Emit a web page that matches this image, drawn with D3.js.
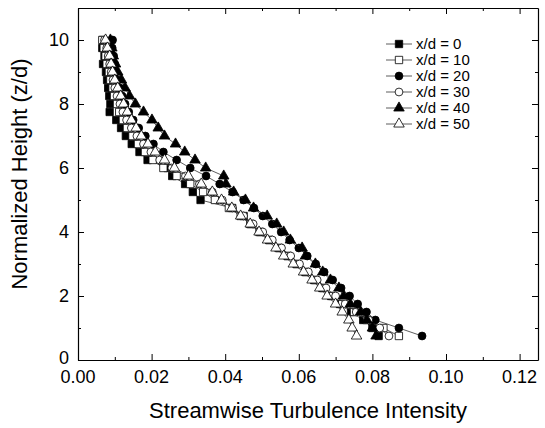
<!DOCTYPE html>
<html>
<head>
<meta charset="utf-8">
<script src="https://cdn.jsdelivr.net/npm/d3@7"></script>
<style>
  body { margin: 0; background: #fff; }
  text { font-family: "Liberation Sans", Arial, sans-serif; fill: #000; }
</style>
</head>
<body>
<svg id="chart" width="545" height="428"></svg>
<script>
// normalized height, top to bottom
var heights = [10, 9.75, 9.5, 9.25, 9, 8.75, 8.5, 8.25, 8, 7.75, 7.5, 7.25, 7, 6.75, 6.5, 6.25, 6, 5.75, 5.5, 5.25,
  5, 4.75, 4.5, 4.25, 4, 3.75, 3.5, 3.25, 3, 2.75, 2.5, 2.25, 2, 1.75, 1.5, 1.25, 1, 0.75];

var xd0 = [0.0068, 0.0066, 0.0072, 0.0068, 0.0076, 0.0079, 0.0082, 0.0085, 0.0088, 0.0086, 0.0104, 0.0117, 0.0130,
  0.0146, 0.0167, 0.0189, 0.0244, 0.0256, 0.0291, 0.0312, 0.0333, 0.0419, 0.0450, 0.0470, 0.0496, 0.0520, 0.0548,
  0.0570, 0.0594, 0.0618, 0.0642, 0.0664, 0.0688, 0.0712, 0.0742, 0.0775, 0.0800, 0.0817];
var xd10 = [0.0066, 0.0070, 0.0075, 0.0078, 0.0084, 0.0088, 0.0094, 0.0098, 0.0106, 0.0112, 0.0122, 0.0133, 0.0148,
  0.0163, 0.0182, 0.0203, 0.0232, 0.0268, 0.0305, 0.0340, 0.0372, 0.0410, 0.0442, 0.0468, 0.0493, 0.0520, 0.0545,
  0.0570, 0.0595, 0.0620, 0.0645, 0.0668, 0.0693, 0.0718, 0.0750, 0.0785, 0.0830, 0.0872];
var xd20 = [0.0094, 0.0093, 0.0097, 0.0100, 0.0103, 0.0108, 0.0114, 0.0120, 0.0128, 0.0138, 0.0150, 0.0165, 0.0183,
  0.0205, 0.0232, 0.0268, 0.0305, 0.0348, 0.0385, 0.0420, 0.0450, 0.0478, 0.0502, 0.0528, 0.0552, 0.0575, 0.0600,
  0.0623, 0.0646, 0.0669, 0.0692, 0.0715, 0.0738, 0.0760, 0.0784, 0.0808, 0.0872, 0.0935];
var xd30 = [0.0072, 0.0078, 0.0082, 0.0086, 0.0090, 0.0095, 0.0100, 0.0106, 0.0114, 0.0122, 0.0132, 0.0145, 0.0160,
  0.0178, 0.0198, 0.0222, 0.0255, 0.0292, 0.0330, 0.0365, 0.0392, 0.0420, 0.0450, 0.0476, 0.0502, 0.0528, 0.0553,
  0.0578, 0.0602, 0.0626, 0.0650, 0.0674, 0.0700, 0.0726, 0.0756, 0.0790, 0.0820, 0.0845];
var xd40 = [0.0088, 0.0092, 0.0096, 0.0102, 0.0108, 0.0118, 0.0128, 0.0140, 0.0156, 0.0178, 0.0201, 0.0218, 0.0235,
  0.0265, 0.0290, 0.0318, 0.0347, 0.0396, 0.0402, 0.0423, 0.0455, 0.0477, 0.0514, 0.0540, 0.0559, 0.0577, 0.0609,
  0.0618, 0.0645, 0.0665, 0.0686, 0.0709, 0.0722, 0.0740, 0.0768, 0.0785, 0.0800, 0.0810];
var xd50 = [0.0075, 0.0080, 0.0086, 0.0090, 0.0094, 0.0100, 0.0108, 0.0116, 0.0124, 0.0134, 0.0145, 0.0158, 0.0172,
  0.0190, 0.0210, 0.0235, 0.0262, 0.0300, 0.0335, 0.0365, 0.0390, 0.0418, 0.0442, 0.0468, 0.0492, 0.0515, 0.0538,
  0.0559, 0.0585, 0.0613, 0.0636, 0.0657, 0.0677, 0.0700, 0.0718, 0.0736, 0.0745, 0.0757];

var seriesNames = ["x/d = 0", "x/d = 10", "x/d = 20", "x/d = 30", "x/d = 40", "x/d = 50"];
var seriesValues = [xd0, xd10, xd20, xd30, xd40, xd50];

var xTicks = [0, 0.02, 0.04, 0.06, 0.08, 0.10, 0.12];
var yTicks = [0, 2, 4, 6, 8, 10];

var margin = { top: 8, right: 7, bottom: 68, left: 78 },
  width = 545 - margin.left - margin.right,
  height = 428 - margin.top - margin.bottom;

var svg = d3.select("#chart")
  .append("g")
  .attr("transform", "translate(" + margin.left + "," + margin.top + ")");

var x = d3.scaleLinear().domain([0, 0.125]).range([0, width]);
var y = d3.scaleLinear().domain([0, 11]).range([height, 0]);

// marker per series
var shapes = [
  { type: d3.symbolSquare, size: 54, fill: "#000" },
  { type: d3.symbolSquare, size: 54, fill: "#fff" },
  { type: d3.symbolCircle, size: 48, fill: "#000" },
  { type: d3.symbolCircle, size: 48, fill: "#fff" },
  { type: d3.symbolTriangle, size: 48, fill: "#000" },
  { type: d3.symbolTriangle, size: 48, fill: "#fff" }
];

var xMinor = d3.range(0, 0.1251, 0.01).map(function (d) { return +d.toFixed(2); });
var yMinor = d3.range(0, 11.01, 1);

function isMajorX(d) {
  return xTicks.some(function (t) { return Math.abs(t - d) < 1e-6; });
}

// frame with inward ticks on all four sides
var bottomAxis = svg.append("g").attr("transform", "translate(0," + height + ")")
  .call(d3.axisTop(x).tickValues(xMinor).tickFormat("").tickSize(0));
bottomAxis.selectAll(".tick line").attr("y2", function (d) { return isMajorX(d) ? -6 : -3; });

var topAxis = svg.append("g")
  .call(d3.axisBottom(x).tickValues(xMinor).tickFormat("").tickSize(0));
topAxis.selectAll(".tick line").attr("y2", function (d) { return isMajorX(d) ? 6 : 3; });

var leftAxis = svg.append("g")
  .call(d3.axisRight(y).tickValues(yMinor).tickFormat("").tickSize(0));
leftAxis.selectAll(".tick line").attr("x2", function (d) { return d % 2 === 0 ? 6 : 3; });

var rightAxis = svg.append("g").attr("transform", "translate(" + width + ",0)")
  .call(d3.axisLeft(y).tickValues(yMinor).tickFormat("").tickSize(0));
rightAxis.selectAll(".tick line").attr("x2", function (d) { return d % 2 === 0 ? -6 : -3; });

svg.selectAll(".domain").attr("stroke", "#000").attr("stroke-width", 1.2);
svg.selectAll(".tick line").attr("stroke", "#000").attr("stroke-width", 1);

// tick labels
svg.append("g").selectAll("text")
  .data(xTicks)
  .join("text")
  .attr("x", function (d) { return x(d); })
  .attr("y", height + 23)
  .attr("text-anchor", "middle")
  .style("font-size", "18px")
  .text(function (d) { return d3.format(".2f")(d); });

svg.append("g").selectAll("text")
  .data(yTicks)
  .join("text")
  .attr("x", -9)
  .attr("y", function (d) { return y(d) + (d === 0 ? 4 : 6); })
  .attr("text-anchor", "end")
  .style("font-size", "18px")
  .text(function (d) { return d; });

// axis titles
svg.append("text")
  .attr("x", width / 2)
  .attr("y", height + 58)
  .attr("text-anchor", "middle")
  .style("font-size", "22px")
  .text("Streamwise Turbulence Intensity");

svg.append("text")
  .attr("transform", "translate(" + (-51) + "," + (height / 2 - 10) + ") rotate(-90)")
  .attr("text-anchor", "middle")
  .style("font-size", "22px")
  .text("Normalized Height (z/d)");

// series
var line = d3.line()
  .x(function (d) { return x(d[0]); })
  .y(function (d) { return y(d[1]); });

seriesValues.forEach(function (vals, i) {
  var pts = vals.map(function (v, j) { return [v, heights[j]]; });
  var g = svg.append("g");
  g.append("path")
    .attr("d", line(pts))
    .attr("fill", "none")
    .attr("stroke", "#333")
    .attr("stroke-width", 0.8);
  g.selectAll("path.pt")
    .data(pts)
    .join("path")
    .attr("class", "pt")
    .attr("transform", function (d) { return "translate(" + x(d[0]) + "," + y(d[1]) + ")"; })
    .attr("d", d3.symbol().type(shapes[i].type).size(shapes[i].size))
    .attr("fill", shapes[i].fill)
    .attr("stroke", "#000")
    .attr("stroke-width", 0.8);
});

// legend
var legend = svg.append("g").attr("transform", "translate(" + (386 - margin.left) + "," + (44 - margin.top) + ")");
seriesNames.forEach(function (name, i) {
  var row = legend.append("g").attr("transform", "translate(0," + i * 16 + ")");
  row.append("line")
    .attr("x1", 0).attr("x2", 26).attr("y1", 0).attr("y2", 0)
    .attr("stroke", "#333").attr("stroke-width", 0.8);
  row.append("path")
    .attr("transform", "translate(13,0)")
    .attr("d", d3.symbol().type(shapes[i].type).size(shapes[i].size))
    .attr("fill", shapes[i].fill)
    .attr("stroke", "#000")
    .attr("stroke-width", 0.8);
  row.append("text")
    .attr("x", 30)
    .attr("y", 5)
    .style("font-size", "15px")
    .text(name);
});
</script>
</body>
</html>
